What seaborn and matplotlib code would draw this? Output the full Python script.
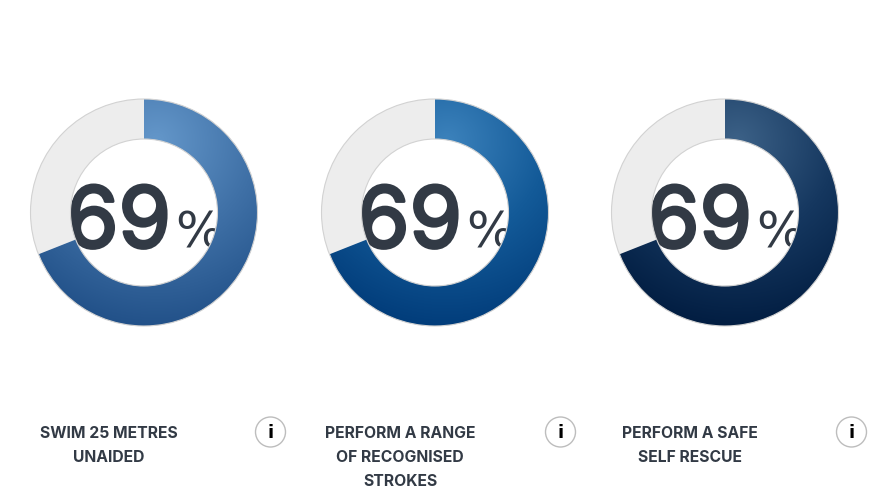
import numpy as np
import matplotlib
matplotlib.use("Agg")
import matplotlib.pyplot as plt
import matplotlib.patheffects as pe
from matplotlib.patches import Circle
import seaborn as sns

values = [69, 31]
big_labels = ["69", "69", "69"]
captions = [
    ["SWIM 25 METRES", "UNAIDED"],
    ["PERFORM A RANGE", "OF RECOGNISED", "STROKES"],
    ["PERFORM A SAFE", "SELF RESCUE"],
]
gradients = [
    ["#6295c8", "#3f70a6", "#1f4e86"],
    ["#3a80ba", "#135a98", "#003a78"],
    ["#3a5f85", "#15375f", "#001b3f"],
]
centers_x = [144, 435, 725]
caption_x = [109, 400, 690]
info_x = [270.5, 560.5, 851.5]
cy = 212.5
r_out = 113.5
r_in = 73.5
ink = "#323a45"

sns.set_theme(style="white")
plt.rcParams["font.family"] = ["Inter", "DejaVu Sans"]

fig = plt.figure(figsize=(8.74, 4.95), dpi=100)
ax = fig.add_axes([0, 0, 1, 1])

for i, cx in enumerate(centers_x):
    # y axis is flipped below, so -90 is the top and the pie runs clockwise
    wedges, _ = ax.pie(
        values,
        center=(cx, cy),
        radius=r_out,
        startangle=-90,
        counterclock=True,
        colors=["#ededed", "#ededed"],
        wedgeprops=dict(width=r_out - r_in, edgecolor="none", zorder=3),
    )
    cmap = sns.blend_palette(gradients[i], as_cmap=True)
    xx, yy = np.meshgrid(np.arange(cx - r_out, cx + r_out + 1),
                         np.arange(cy - r_out, cy + r_out + 1))
    dist = np.hypot(xx - (cx + 12), yy - (cy - 72))
    img = ax.imshow(dist, cmap=cmap, vmin=5, vmax=195, aspect="auto",
                    extent=(cx - r_out, cx + r_out, cy + r_out, cy - r_out),
                    origin="upper", zorder=3.5, interpolation="bilinear")
    img.set_clip_path(wedges[0])

    ax.add_patch(Circle((cx, cy), r_out, fill=False, ec="#d2d2d2", lw=0.8, zorder=4))
    ax.add_patch(Circle((cx, cy), r_in, fill=False, ec="#d2d2d2", lw=0.8, zorder=4))

    # number sits under the ring so the ring cuts off the % sign
    t1 = ax.text(cx - 25.5, cy + 35, big_labels[i], fontsize=61, color=ink,
                 ha="center", va="baseline", zorder=2)
    t1.set_path_effects([pe.withStroke(linewidth=2.2, foreground=ink)])
    ax.text(cx + 31, cy + 35, "%", fontsize=36, color=ink, family="DejaVu Sans",
            ha="left", va="baseline", zorder=2)

    for j, line in enumerate(captions[i]):
        ax.text(caption_x[i], 433 + 24 * j, line, fontsize=11.3, fontweight="bold",
                color=ink, ha="center", va="center")

    ax.add_patch(Circle((info_x[i], 432), 15, fc="white", ec="#bdbdbd", lw=1, zorder=3))
    ax.text(info_x[i], 432.5, "i", fontsize=13, fontweight="bold", color="black",
            family="DejaVu Sans", ha="center", va="center", zorder=4)

ax.set_xlim(0, 874)
ax.set_ylim(495, 0)
ax.set_aspect("auto")
ax.axis("off")

fig.savefig("out.png", dpi=100, facecolor="white")
